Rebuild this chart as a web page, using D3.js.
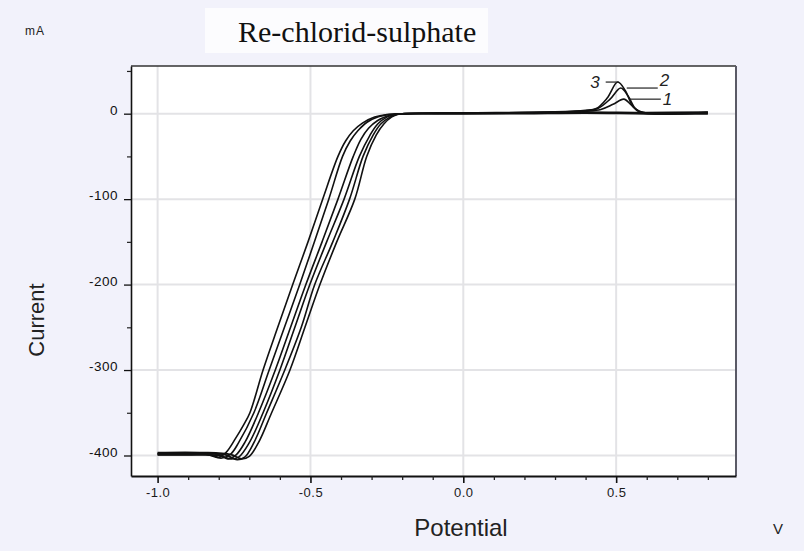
<!DOCTYPE html>
<html>
<head>
<meta charset="utf-8">
<script src="https://cdn.jsdelivr.net/npm/d3@7/dist/d3.min.js"></script>
<style>
  html, body { margin: 0; padding: 0; background: #f2f2fb; }
  svg { display: block; }
</style>
</head>
<body>
<svg id="chart" width="804" height="551"></svg>
<script>
// Axis ticks and labels
const potentialTicks = [-1.0, -0.5, 0.0, 0.5];
const potentialTickLabels = ["-1.0", "-0.5", "0.0", "0.5"];
const potentialMinorTicks = [-0.9, -0.8, -0.7, -0.6, -0.4, -0.3, -0.2, -0.1, 0.1, 0.2, 0.3, 0.4, 0.6, 0.7, 0.8];
const currentTicks = [0, -100, -200, -300, -400];
const currentTickLabels = ["0", "-100", "-200", "-300", "-400"];
const currentMinorTicks = [50, -50, -150, -250, -350];

// Cycle labels and their anodic peaks (V, mA)
const cycleLabels = ["1", "2", "3"];
const peakPotentials = [0.525, 0.515, 0.505];
const peakCurrents = [17, 30, 37];

// Sweeps as [potential V, current mA]; cathodic sweeps run 0.8 -> -1.0, anodic -1.0 -> 0.8
const cycle1Cathodic = [[0.8, 0.8], [0.6, 0.6], [0.4, 1.2], [0.2, 0.6], [0.0, 0.2], [-0.2, 0], [-0.215, -1], [-0.235, -4], [-0.26, -12], [-0.285, -25], [-0.316, -50], [-0.355, -100], [-0.414, -150], [-0.469, -200], [-0.518, -250], [-0.567, -300], [-0.627, -350], [-0.67, -385], [-0.70, -401], [-0.725, -404], [-0.76, -399], [-0.85, -396.5], [-1.0, -396.5]];
const cycle2Cathodic = [[0.8, 1.8], [0.6, 1.4], [0.4, 2.0], [0.2, 1.2], [0.0, 0.6], [-0.2, 0], [-0.22, -1], [-0.24, -4], [-0.27, -12], [-0.295, -25], [-0.328, -50], [-0.372, -100], [-0.427, -150], [-0.486, -200], [-0.53, -250], [-0.584, -300], [-0.643, -350], [-0.685, -385], [-0.715, -402], [-0.74, -405], [-0.78, -399], [-0.88, -398], [-1.0, -398]];
const cycle3Cathodic = [[0.8, -0.3], [0.6, -0.2], [0.4, 0.6], [0.2, 0.0], [0.0, -0.4], [-0.2, -0.3], [-0.225, -1], [-0.25, -4], [-0.28, -12], [-0.305, -25], [-0.34, -50], [-0.39, -100], [-0.447, -150], [-0.502, -200], [-0.551, -250], [-0.60, -300], [-0.655, -350], [-0.70, -385], [-0.735, -402], [-0.76, -404], [-0.80, -400], [-0.9, -399.5], [-1.0, -399.5]];
const cycle1Anodic = [[-1.0, -398], [-0.8, -399], [-0.77, -404], [-0.745, -400], [-0.715, -385], [-0.67, -350], [-0.615, -300], [-0.565, -250], [-0.515, -200], [-0.462, -150], [-0.41, -100], [-0.36, -50], [-0.335, -30], [-0.31, -17], [-0.28, -8], [-0.25, -3], [-0.22, -0.5], [-0.2, 0], [0.0, 0.6], [0.3, 1.5], [0.4, 3], [0.45, 5], [0.49, 11], [0.525, 17], [0.55, 10], [0.575, 3], [0.6, 0.8], [0.8, 0.8]];
const cycle2Anodic = [[-1.0, -397.5], [-0.85, -398], [-0.79, -403], [-0.76, -398], [-0.735, -385], [-0.685, -350], [-0.635, -300], [-0.585, -250], [-0.535, -200], [-0.487, -150], [-0.44, -100], [-0.395, -50], [-0.37, -32], [-0.345, -20], [-0.315, -10], [-0.28, -4], [-0.24, -1], [-0.2, 0], [0.0, 0.8], [0.3, 1.8], [0.4, 3.5], [0.44, 6], [0.48, 17], [0.515, 30], [0.54, 20], [0.565, 5], [0.59, 1.2], [0.8, 1.2]];
const cycle3Anodic = [[-1.0, -399], [-0.9, -399], [-0.83, -399], [-0.80, -402], [-0.775, -396], [-0.745, -380], [-0.72, -365], [-0.698, -350], [-0.655, -300], [-0.607, -250], [-0.558, -200], [-0.508, -150], [-0.46, -100], [-0.41, -50], [-0.385, -32], [-0.36, -20], [-0.33, -11], [-0.29, -4], [-0.25, -1], [-0.2, 0], [0.0, 1.0], [0.3, 2.2], [0.4, 4], [0.435, 6], [0.47, 18], [0.505, 37], [0.53, 27], [0.555, 8], [0.58, 1.5], [0.8, 1.5]];

const sweeps = [cycle1Cathodic, cycle2Cathodic, cycle3Cathodic, cycle1Anodic, cycle2Anodic, cycle3Anodic];

const svg = d3.select("#chart");
const W = 804, H = 551;
const margin = { top: 66, right: 68, bottom: 75, left: 131 };
const plotW = W - margin.left - margin.right;
const plotH = H - margin.top - margin.bottom;

const x = d3.scaleLinear().domain([-1.087, 0.892]).range([0, plotW]);
const y = d3.scaleLinear().domain([-424, 55.8]).range([plotH, 0]);

// page background and title box
svg.append("rect").attr("width", W).attr("height", H).attr("fill", "#f2f2fb");
svg.append("rect").attr("x", 205).attr("y", 8).attr("width", 283).attr("height", 45).attr("fill", "#fcfcfe");
svg.append("text").attr("x", 238).attr("y", 42)
  .attr("font-family", "'Liberation Serif', 'Times New Roman', serif")
  .attr("font-size", 30).attr("fill", "#111")
  .text("Re-chlorid-sulphate");

const g = svg.append("g").attr("transform", `translate(${margin.left},${margin.top})`);

g.append("rect").attr("width", plotW).attr("height", plotH).attr("fill", "#ffffff");

// grid
g.append("g").selectAll("line").data(potentialTicks).join("line")
  .attr("x1", d => x(d)).attr("x2", d => x(d)).attr("y1", 0).attr("y2", plotH)
  .attr("stroke", "#e3e3e6").attr("stroke-width", 2);
g.append("g").selectAll("line").data(currentTicks).join("line")
  .attr("y1", d => y(d)).attr("y2", d => y(d)).attr("x1", 0).attr("x2", plotW)
  .attr("stroke", "#e3e3e6").attr("stroke-width", 2);

// curves
const line = d3.line().x(d => x(d[0])).y(d => y(d[1])).curve(d3.curveCatmullRom.alpha(0.5));
g.append("g").selectAll("path").data(sweeps).join("path")
  .attr("d", line).attr("fill", "none")
  .attr("stroke", "#111").attr("stroke-width", 1.6).attr("stroke-linejoin", "round");

// cycle labels with leader lines
const labelFont = "'Liberation Sans', Arial, sans-serif";
cycleLabels.forEach((lab, i) => {
  const px = x(peakPotentials[i]), py = y(peakCurrents[i]);
  let x1, x2, tx, anchor;
  if (lab === "3") { x1 = px - 12; x2 = px + 1; tx = px - 18; anchor = "end"; }
  else { x1 = px + 6; x2 = px + 37; tx = px + 39; anchor = "start"; }
  g.append("line").attr("x1", x1).attr("x2", x2).attr("y1", py).attr("y2", py)
    .attr("stroke", "#222").attr("stroke-width", 1.2);
  g.append("text").attr("x", tx).attr("y", lab === "2" ? py - 2 : py + 6)
    .attr("text-anchor", anchor).attr("font-family", labelFont).attr("font-style", "italic")
    .attr("font-size", 17).attr("fill", "#222").text(lab);
});

// frame: top and right edges
g.append("line").attr("x1", 0).attr("x2", plotW).attr("y1", 0).attr("y2", 0).attr("stroke", "#333").attr("stroke-width", 1.5);
g.append("line").attr("x1", plotW).attr("x2", plotW).attr("y1", 0).attr("y2", plotH).attr("stroke", "#5a5a66").attr("stroke-width", 2);

// axes
const tickFont = "'Liberation Sans', Arial, sans-serif";
const yAxis = g.append("g")
  .call(d3.axisLeft(y).tickValues(currentTicks).tickSize(7).tickPadding(6).tickSizeOuter(0)
    .tickFormat((d, i) => currentTickLabels[i]));
yAxis.select(".domain").attr("stroke", "#111").attr("stroke-width", 1.6);
yAxis.selectAll(".tick line").attr("stroke", "#111").attr("stroke-width", 1.3);
yAxis.selectAll(".tick text").attr("dy", "0.05em").attr("font-family", tickFont)
  .attr("font-size", 13.5).attr("fill", "#111").attr("letter-spacing", 0.5);
g.append("g").call(d3.axisLeft(y).tickValues(currentMinorTicks).tickSize(4).tickFormat("").tickSizeOuter(0))
  .call(a => a.select(".domain").remove())
  .selectAll(".tick line").attr("stroke", "#222").attr("stroke-width", 1.2);

const xAxis = g.append("g").attr("transform", `translate(0,${plotH})`)
  .call(d3.axisBottom(x).tickValues(potentialTicks).tickSize(7).tickPadding(5).tickSizeOuter(0)
    .tickFormat((d, i) => potentialTickLabels[i]));
xAxis.select(".domain").attr("stroke", "#111").attr("stroke-width", 2);
xAxis.selectAll(".tick line").attr("stroke", "#111").attr("stroke-width", 1.6);
xAxis.selectAll(".tick text").attr("font-family", tickFont)
  .attr("font-size", 13).attr("fill", "#1a1a1a").attr("letter-spacing", 0.5);
g.append("g").attr("transform", `translate(0,${plotH})`)
  .call(d3.axisBottom(x).tickValues(potentialMinorTicks).tickSize(4).tickFormat("").tickSizeOuter(0))
  .call(a => a.select(".domain").remove())
  .selectAll(".tick line").attr("stroke", "#222").attr("stroke-width", 1.3);

// axis titles and units
svg.append("text").attr("transform", "translate(44,320) rotate(-90)")
  .attr("text-anchor", "middle").attr("font-family", tickFont)
  .attr("font-size", 22).attr("fill", "#222").text("Current");
svg.append("text").attr("x", 461).attr("y", 536)
  .attr("text-anchor", "middle").attr("font-family", tickFont)
  .attr("font-size", 24).attr("fill", "#222").text("Potential");
svg.append("text").attr("x", 773).attr("y", 534)
  .attr("font-family", tickFont).attr("font-size", 15).attr("fill", "#222").text("V");
svg.append("text").attr("x", 25).attr("y", 35)
  .attr("font-family", tickFont).attr("font-size", 12)
  .attr("letter-spacing", 1).attr("fill", "#222").text("mA");
</script>
</body>
</html>
